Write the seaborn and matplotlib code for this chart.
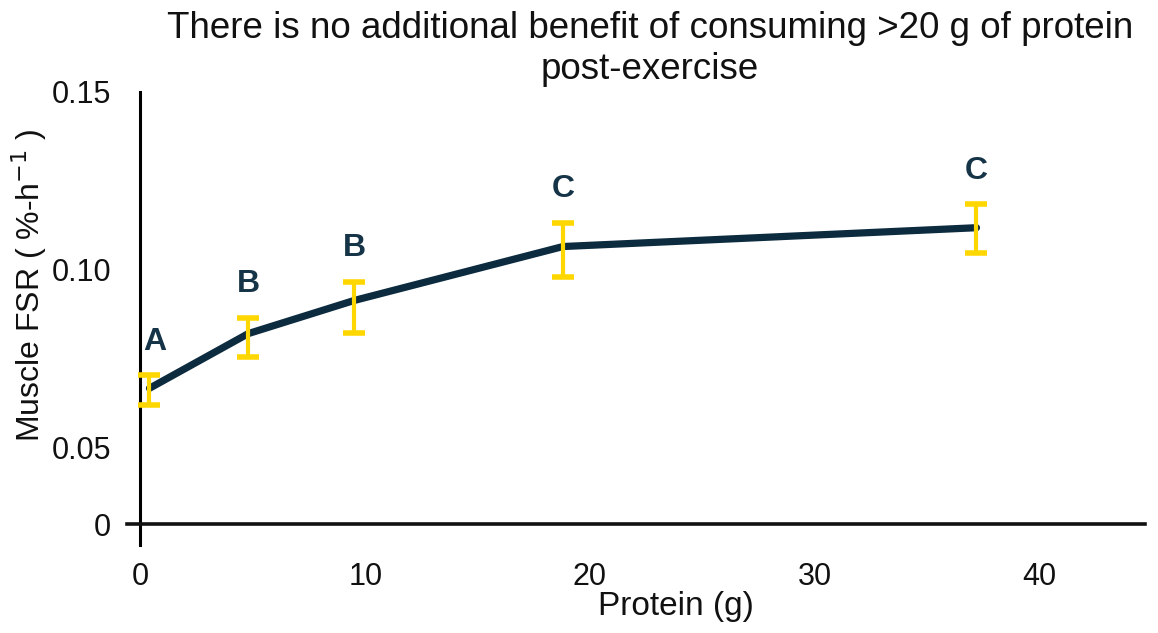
import numpy as np
import pandas as pd
import matplotlib
matplotlib.use("Agg")
import matplotlib.pyplot as plt
import seaborn as sns

# values
protein_g = [0.4, 4.8, 9.5, 18.8, 37.2]
fsr = [0.0666, 0.0820, 0.0913, 0.1065, 0.1118]
err_low = [0.0048, 0.0067, 0.0090, 0.0087, 0.0070]
err_high = [0.0037, 0.0045, 0.0053, 0.0067, 0.0067]
letters = ["A", "B", "B", "C", "C"]

x_ticks = [0, 10, 20, 30, 40]
y_ticks = [0, 0.05, 0.10, 0.15]
y_tick_labels = ["0", "0.05", "0.10", "0.15"]

df = pd.DataFrame({"protein": protein_g, "fsr": fsr})

sns.set_theme(style="white")
plt.rcParams["font.family"] = ["Liberation Sans Narrow", "Liberation Sans", "DejaVu Sans"]
plt.rcParams["mathtext.fontset"] = "custom"
plt.rcParams["mathtext.rm"] = "Liberation Sans Narrow"

line_col = "#0c2b3f"
bar_col = "#ffd700"

fig = plt.figure(figsize=(11.58, 6.33), dpi=100)
ax = fig.add_axes([127 / 1158, 1 - 545 / 633, (1145 - 127) / 1158, (545 - 92) / 633])

# the axis below 0.05 is squeezed in the original
k = 77 / 178


def fwd(y):
    y = np.asarray(y, dtype=float)
    return np.where(y < 0.05, y * k, 0.05 * k + (y - 0.05))


def inv(t):
    t = np.asarray(t, dtype=float)
    return np.where(t < 0.05 * k, t / k, t - 0.05 * k + 0.05)


ax.set_yscale("function", functions=(fwd, inv))

sns.lineplot(data=df, x="protein", y="fsr", color=line_col, lw=5.2,
             errorbar=None, ax=ax, zorder=2)
ax.errorbar(protein_g, fsr, yerr=[err_low, err_high], fmt="none",
            ecolor=bar_col, elinewidth=3, capsize=8, capthick=4, zorder=3)

for i, (xv, yv, up, lab) in enumerate(zip(protein_g, fsr, err_high, letters)):
    dx = 4 if i == 0 else 0
    ax.annotate(lab, xy=(xv, yv + up), xytext=(dx, 24), textcoords="offset points",
                ha="center", va="center", fontsize=23, fontweight="bold",
                color="#163447")

ax.set_xlim(-0.6, 44.7)
ax.set_ylim(-0.0136, 0.15)
ax.set_xticks(x_ticks)
ax.set_yticks(y_ticks)
ax.set_yticklabels(y_tick_labels)
ax.yaxis.set_minor_locator(matplotlib.ticker.NullLocator())
ax.tick_params(axis="both", length=0, labelsize=22, colors="#111111")
ax.tick_params(axis="x", pad=27)
ax.tick_params(axis="y", pad=21)

for s in ["top", "right"]:
    ax.spines[s].set_visible(False)
ax.spines["left"].set_position(("data", 0))
ax.spines["bottom"].set_position(("data", 0))
ax.spines["left"].set_linewidth(2.2)
ax.spines["bottom"].set_linewidth(2.6)
ax.spines["left"].set_color("black")
ax.spines["bottom"].set_color("#111111")

ax.set_xlabel("Protein (g)", fontsize=24, color="#111111")
ax.xaxis.set_label_coords(0.539, -0.135)
ax.xaxis.label.set_va("center")
ax.set_ylabel(r"Muscle FSR ( %-h$^{-1}$ )", fontsize=23, color="#111111")
ax.yaxis.set_label_coords(-0.096, 0.574)
ax.yaxis.label.set_va("center")

fig.suptitle("There is no additional benefit of consuming >20 g of protein\npost-exercise",
             x=650 / 1158, y=1 - 49 / 633, va="center", ha="center",
             fontsize=26.5, color="#111111", linespacing=1.2)

fig.savefig("out.png", dpi=100)
